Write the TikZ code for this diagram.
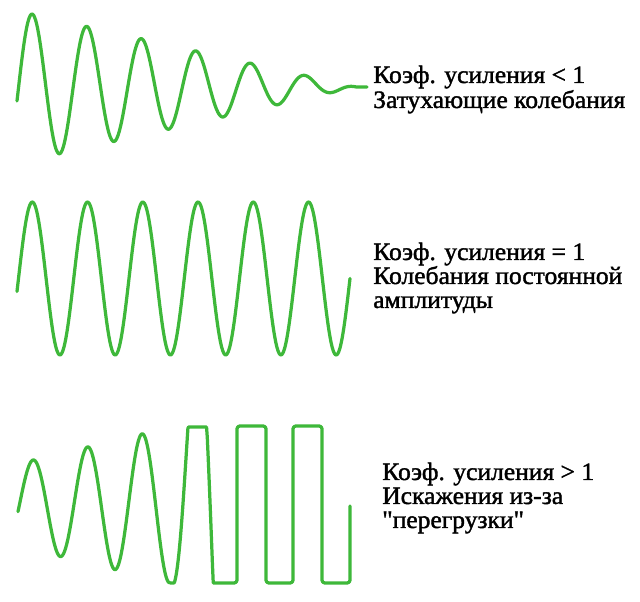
\documentclass[tikz,border=0pt]{standalone}
\usepackage{fontspec}
\newfontfamily\capfont{Liberation Serif}[FakeBold=1.5, FakeStretch=1.02]
\usepackage{tikz}
\definecolor{wavegreen}{RGB}{62,184,58}
\tikzset{
        wave/.style = {draw=wavegreen, line width=2.3pt, line join=round,
            line cap=round},
        caption/.style = {anchor=base west, inner sep=0pt, text=black,
            font=\capfont\fontsize{17.8}{20}\selectfont}
    }

\begin{document}
\begin{tikzpicture}[x=0.025cm, y=-0.025cm]
    \fill[white] (0,0) rectangle (640,602);
    \useasboundingbox (0,0) rectangle (640,602);
    % damped oscillation
    \draw[wave] plot[domain=17:367, samples=320, smooth]
        (\x, {87 - max(73 - 0.225*(\x-32), 0)*sin(360/54.6*(\x-18.6))});
    \node[caption] (k1) at (373,83) {Коэф. усиления < 1};
    \node[caption] (d1) at (373,108) {Затухающие колебания};
    % constant amplitude
    \draw[wave] plot[domain=17:350, samples=320, smooth]
        (\x, {278.5 - 76.5*sin(360/55.25*(\x-18.5))});
    \node[caption] (k2) at (373,260) {Коэф. усиления = 1};
    \node[caption] (d2a) at (373,284) {Колебания постоянной};
    \node[caption] (d2b) at (373,308) {амплитуды};
    % overload: growing sine, then clipped
    \draw[wave] plot[domain=18:170, samples=160, smooth]
        (\x, {505 - (45 + 0.24*(\x-33))*sin(360/54.5*(\x-19.4))})
        -- plot[domain=170:214, samples=60]
        (\x, {max(427, min(583, 505 - (78 + 3.5*(\x-170))*sin(360/54.5*(\x-19.4))))})
        [rounded corners=2pt] -- (237,583) -- (237,426) -- (266,426) -- (266,583)
        -- (293,583) -- (293,426) -- (322,426) -- (322,583) -- (350,583)
        [sharp corners] -- (350,506);
    \node[caption] (k3) at (382,480) {Коэф. усиления > 1};
    \node[caption] (d3a) at (382,504) {Искажения из-за};
    \node[caption] (d3b) at (382,528) {"перегрузки"};
\end{tikzpicture}
\end{document}
